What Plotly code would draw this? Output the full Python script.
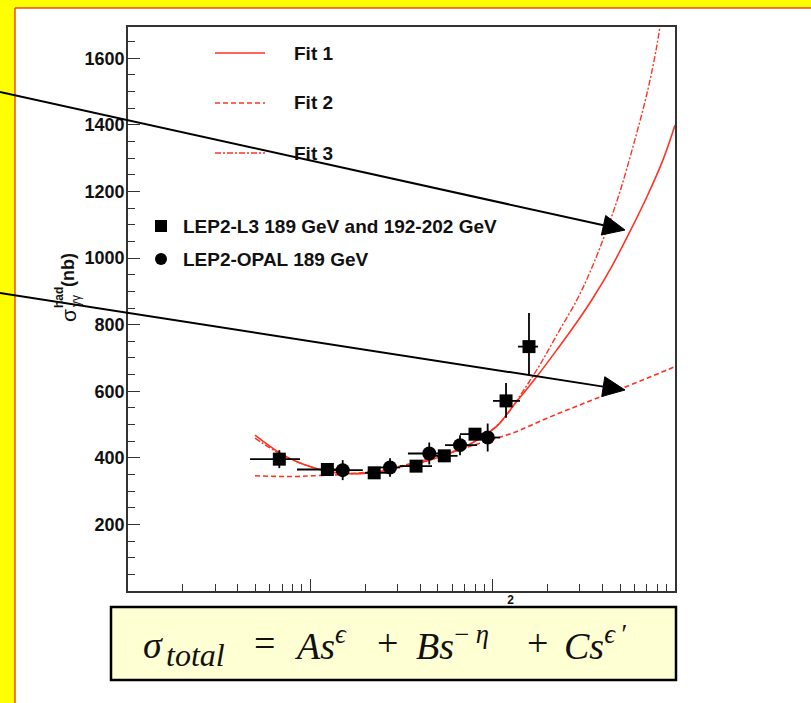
import plotly.graph_objects as go

# ---------------- data ----------------
l3_x = [6.76, 12.4, 22.4, 38.0, 54.3, 80.0, 118.4, 158.2]
l3_y = [396, 365, 355, 375, 406, 471, 571, 734]
l3_x_lo = [4.67, 8.45, 19.9, 31.0, 47.6, 66.2, 100.4, 137.7]
l3_x_hi = [8.78, 14.0, 26.3, 46.5, 64.2, 100.8, 141.3, 177.3]
l3_y_up = [27, 9, 9, 9, 10, 10, 54, 101]
l3_y_dn = [27, 9, 9, 9, 10, 10, 51, 85]

opal_x = [15.05, 27.35, 44.9, 66.2, 93.9]
opal_y = [363, 371, 413, 438, 461]
opal_x_lo = [12.8, 24.1, 34.3, 54.8, 85.2]
opal_x_hi = [19.4, 31.0, 53.4, 82.1, 109.9]
opal_y_err = [30, 28, 33, 30, 42]

fit1_x = [4.97, 6.82, 8.45, 10.34, 12.82, 15.89, 19.45, 24.11, 29.88, 38.46, 49.52, 63.74,
          82.07, 105.6, 129.3, 175.1, 225.4, 290.1, 355.1, 440.1, 566.5, 702.3, 859.4, 1000]
fit1_y = [468, 414, 388, 371, 358, 353, 353, 358, 371, 383, 400, 423,
          453, 495, 555, 645, 725, 808, 880, 965, 1080, 1185, 1295, 1399]

fit2_x = [4.97, 6.82, 8.45, 10.34, 15.89, 24.11, 36.57, 56.2, 85.2, 129.3, 198.6, 301.3, 457.1, 702.3, 1000]
fit2_y = [346, 344, 344, 346, 351, 363, 384, 413, 444, 475, 519, 559, 598, 639, 674]

fit3_x = [4.97, 6.82, 8.45, 10.34, 12.82, 15.89, 19.45, 24.11, 29.88, 38.46, 49.52, 63.74,
          82.07, 105.6, 119.8, 146.7, 181.8, 225.4, 290.1, 342.0, 429.1, 499.3, 588.4, 702.3, 796.6, 860.0]
fit3_y = [459, 412, 388, 371, 358, 353, 353, 358, 371, 383, 400, 423,
          453, 497, 530, 600, 680, 770, 875, 958, 1095, 1200, 1335, 1495, 1640, 1760]

y_tick_vals = [200, 400, 600, 800, 1000, 1200, 1400, 1600]
x_label_vals = [100]
x_label_text = ["2"]
x_major_vals = [10, 1000]
x_minor_vals = [2, 3, 4, 5, 6, 7, 8, 9, 20, 30, 40, 50, 60, 70, 80, 90,
                200, 300, 400, 500, 600, 700, 800, 900]

legend_fits = ["Fit 1", "Fit 2", "Fit 3"]
legend_data = ["LEP2-L3 189 GeV and 192-202 GeV", "LEP2-OPAL 189 GeV"]
# (text, x pixel, anchor, y pixel, size)
formula_parts = [
    ("<i>σ</i>", 141, "left", 645, 38),
    ("<i>total</i>", 164, "left", 655, 32),
    ("=", 264, "center", 643, 38),
    ("<i>As</i><sup><i>ϵ</i></sup>", 292, "left", 643, 38),
    ("+", 387, "center", 643, 38),
    ("<i>Bs</i><sup>− <i>η</i></sup>", 414, "left", 643, 38),
    ("+", 537, "center", 643, 38),
    ("<i>Cs</i><sup><i>ϵ</i> ′</sup>", 562, "left", 643, 38),
]

# ---------------- layout geometry ----------------
W, H = 811, 703
L, T, R, B = 128, 27, 675, 591
PW, PH = R - L, B - T
RED = "#ff3322"


def px(x):
    return (x - L) / PW


def py(y):
    return (B - y) / PH


fig = go.Figure()

fig.add_trace(go.Scatter(x=fit1_x, y=fit1_y, mode="lines", line=dict(color=RED, width=1.6, shape="spline"),
                         name="Fit 1", showlegend=False, hoverinfo="skip"))
fig.add_trace(go.Scatter(x=fit2_x, y=fit2_y, mode="lines",
                         line=dict(color=RED, width=1.6, dash="5px,3px", shape="spline"),
                         name="Fit 2", showlegend=False, hoverinfo="skip"))
fig.add_trace(go.Scatter(x=fit3_x, y=fit3_y, mode="lines",
                         line=dict(color=RED, width=1.4, dash="6px,2px,2px,2px", shape="spline"),
                         name="Fit 3", showlegend=False, hoverinfo="skip"))

fig.add_trace(go.Scatter(
    x=l3_x, y=l3_y, mode="markers", name=legend_data[0], showlegend=False,
    marker=dict(symbol="square", size=13, color="black"),
    error_x=dict(type="data", symmetric=False,
                 array=[h - x for h, x in zip(l3_x_hi, l3_x)],
                 arrayminus=[x - lo for x, lo in zip(l3_x, l3_x_lo)],
                 color="black", thickness=1.8, width=0),
    error_y=dict(type="data", symmetric=False, array=l3_y_up, arrayminus=l3_y_dn,
                 color="black", thickness=1.8, width=0)))

fig.add_trace(go.Scatter(
    x=opal_x, y=opal_y, mode="markers", name=legend_data[1], showlegend=False,
    marker=dict(symbol="circle", size=14, color="black"),
    error_x=dict(type="data", symmetric=False,
                 array=[h - x for h, x in zip(opal_x_hi, opal_x)],
                 arrayminus=[x - lo for x, lo in zip(opal_x, opal_x_lo)],
                 color="black", thickness=1.8, width=0),
    error_y=dict(type="data", array=opal_y_err, color="black", thickness=1.8, width=0)))

shapes = []
# yellow frame and red border of the slide
shapes.append(dict(type="rect", xref="paper", yref="paper", x0=px(0), x1=px(15), y0=py(H), y1=py(0),
                   fillcolor="#ffff00", line=dict(width=0), layer="below"))
shapes.append(dict(type="rect", xref="paper", yref="paper", x0=px(0), x1=px(W), y0=py(8), y1=py(0),
                   fillcolor="#ffff00", line=dict(width=0), layer="below"))
shapes.append(dict(type="line", xref="paper", yref="paper", x0=px(15), x1=px(15), y0=py(8), y1=py(H),
                   line=dict(color="#f04a2a", width=1.5), layer="below"))
shapes.append(dict(type="line", xref="paper", yref="paper", x0=px(15), x1=px(W), y0=py(8), y1=py(8),
                   line=dict(color="#f04a2a", width=1.5), layer="below"))

# formula box
shapes.append(dict(type="rect", xref="paper", yref="paper", x0=px(111), x1=px(676), y0=py(680), y1=py(607),
                   fillcolor="#ffffd4", line=dict(color="black", width=2.5), layer="below"))

# legend samples
leg_dash = ["solid", "5px,3px", "6px,2px,2px,2px"]
for i, d in enumerate(leg_dash):
    yy = 53 + 50 * i
    shapes.append(dict(type="line", xref="paper", yref="paper", x0=px(215), x1=px(265), y0=py(yy), y1=py(yy),
                       line=dict(color=RED, width=1.6, dash=d)))
shapes.append(dict(type="rect", xref="paper", yref="paper", x0=px(155), x1=px(167), y0=py(232), y1=py(220),
                   fillcolor="black", line=dict(width=0)))
shapes.append(dict(type="circle", xref="paper", yref="paper", x0=px(155), x1=px(167), y0=py(265), y1=py(253),
                   fillcolor="black", line=dict(width=0)))


# arrows (decoration)
def arrow(x0, y0, x1, y1, head=22, half=10):
    dx, dy = x1 - x0, y1 - y0
    n = (dx * dx + dy * dy) ** 0.5
    ux, uy = dx / n, dy / n
    bx, by = x1 - head * ux, y1 - head * uy
    nx, ny = -uy, ux
    out = [dict(type="line", xref="paper", yref="paper", x0=px(x0), y0=py(y0), x1=px(bx), y1=py(by),
                line=dict(color="black", width=2), layer="above")]
    path = "M {} {} L {} {} L {} {} Z".format(px(x1), py(y1), px(bx + half * nx), py(by + half * ny),
                                              px(bx - half * nx), py(by - half * ny))
    out.append(dict(type="path", xref="paper", yref="paper", path=path, fillcolor="black",
                    line=dict(color="black", width=1), layer="above"))
    return out


shapes += arrow(0, 92, 625, 230)
shapes += arrow(0, 293, 625, 390)

annotations = []
SANS = "Liberation Sans, Arial, sans-serif"
LEGFONT = dict(family=SANS, size=19, color="#111111", weight="bold")
for i, t in enumerate(legend_fits):
    annotations.append(dict(xref="paper", yref="paper", x=px(292), y=py(53 + 50 * i), text=t,
                            showarrow=False, xanchor="left", yanchor="middle", font=LEGFONT))
for i, t in enumerate(legend_data):
    annotations.append(dict(xref="paper", yref="paper", x=px(181), y=py(226 + 33 * i), text=t,
                            showarrow=False, xanchor="left", yanchor="middle", font=LEGFONT))


# y axis title pieces (rotated)
def ytitle(text, x, y, size, weight="normal"):
    return dict(xref="paper", yref="paper", x=px(x), y=py(y), text=text, textangle=-90,
                xanchor="center", yanchor="middle", showarrow=False,
                font=dict(family=SANS, size=size, color="#111", weight=weight))


annotations.append(ytitle("(nb)", 68, 270, 18, "bold"))
annotations.append(ytitle("σ", 68, 316, 21))
annotations.append(ytitle("had", 59, 298, 12, "bold"))
annotations.append(ytitle("γγ", 76, 301, 12))

# formula
for text, xx, anc, yy, size in formula_parts:
    annotations.append(dict(xref="paper", yref="paper", x=px(xx), y=py(yy), text=text, showarrow=False,
                            xanchor=anc, yanchor="middle",
                            font=dict(family="Liberation Serif, DejaVu Serif, serif", size=size, color="#111")))

axis_font = dict(family=SANS, size=18, color="#111", weight="bold")

fig.update_layout(
    width=W, height=H,
    margin=dict(l=L, r=W - R, t=T, b=H - B, pad=0),
    paper_bgcolor="white", plot_bgcolor="white",
    showlegend=False,
    shapes=shapes, annotations=annotations,
    xaxis=dict(type="log", range=[0, 3], showgrid=False, zeroline=False,
               showline=True, linecolor="#333", linewidth=1.6, mirror=True,
               tickmode="array", tickvals=x_label_vals, ticktext=x_label_text,
               ticks="inside", ticklen=12, tickwidth=1.4, tickcolor="#333",
               tickfont=dict(family=SANS, size=12, color="#111", weight="bold"),
               ticklabelshift=18, ticklabelstandoff=-3,
               minor=dict(tickmode="array", tickvals=x_minor_vals, ticks="inside", ticklen=7,
                          tickwidth=1.2, tickcolor="#333", showgrid=False)),
    xaxis2=dict(type="log", range=[0, 3], overlaying="x", anchor="y", side="bottom",
                showgrid=False, zeroline=False, showline=False, showticklabels=False,
                tickmode="array", tickvals=x_major_vals,
                ticks="inside", ticklen=12, tickwidth=1.4, tickcolor="#333"),
    yaxis=dict(range=[0, 1694], showgrid=False, zeroline=False,
               showline=True, linecolor="#333", linewidth=1.6, mirror=True,
               tickmode="array", tickvals=y_tick_vals,
               ticks="inside", ticklen=12, tickwidth=1.4, tickcolor="#333",
               tickfont=axis_font, ticklabelstandoff=-2,
               minor=dict(dtick=50, tick0=0, ticks="inside", ticklen=7, tickwidth=1.2,
                          tickcolor="#333", showgrid=False)),
)

# an invisible trace so that the overlay axis carrying the decade ticks is drawn
fig.add_trace(go.Scatter(x=[10], y=[0], xaxis="x2", mode="markers", marker=dict(opacity=0),
                         showlegend=False, hoverinfo="skip"))

fig.write_html("out.html")
